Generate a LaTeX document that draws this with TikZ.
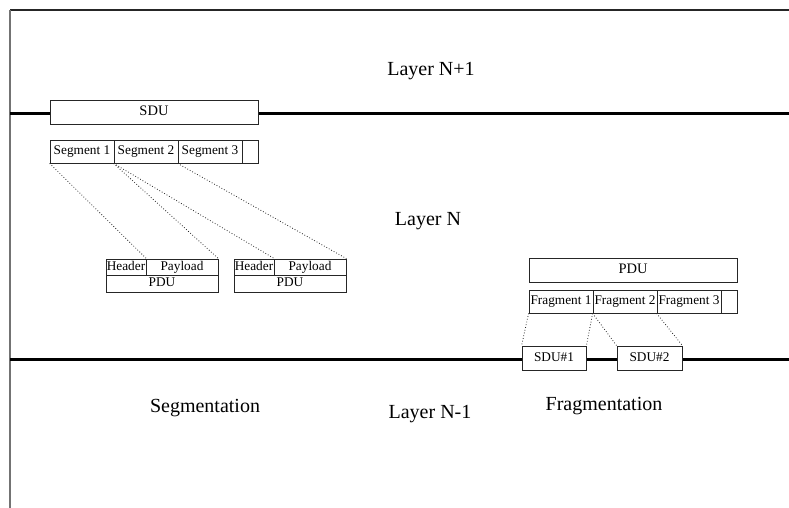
\documentclass[tikz,border=0pt]{standalone}
\usepackage{fontspec}
\setmainfont{Liberation Serif}
\begin{document}
\begin{tikzpicture}[x=1pt,y=-1pt,
  box/.style={draw=black!85, fill=white, line width=0.8pt, inner sep=0pt, anchor=center, text height=0.72em, text depth=0.06em, font=\fontsize{13.3}{15}\selectfont},
  bigbox/.style={box, font=\fontsize{14.5}{17}\selectfont},
  layerline/.style={line width=3pt, black},
  frameline/.style={line width=1.2pt},
  dotline/.style={dotted, line width=0.8pt, black!85},
  lbl/.style={font=\fontsize{20}{24}\selectfont, inner sep=0pt, anchor=center}]
\useasboundingbox (0,0) rectangle (789,508);
% frame
\draw[frameline, black!85] (10,10) -- (789,10);
\draw[frameline, black!55] (10,10) -- (10,508);
% layer boundaries
\draw[layerline] (10,114) -- (789,114);
\draw[layerline] (10,359) -- (789,359);
% labels
\node[lbl] (ln1) at (431,71) {Layer N+1};
\node[lbl] (ln) at (428,221) {Layer N};
\node[lbl] (lnm) at (430,414) {Layer N-1};
\node[lbl] (segm) at (205,408) {Segmentation};
\node[lbl] (fragm) at (604,406) {Fragmentation};
% segmentation side
\node[bigbox, minimum width=208pt, minimum height=24pt] (sdu) at (154,112) {SDU};
\node[box, minimum width=64pt, minimum height=23pt] (seg1) at (82,151.5) {Segment 1};
\node[box, minimum width=64pt, minimum height=23pt] (seg2) at (146,151.5) {Segment 2};
\node[box, minimum width=64pt, minimum height=23pt] (seg3) at (210,151.5) {Segment 3};
\node[box, minimum width=16pt, minimum height=23pt] (seg4) at (250,151.5) {};
\node[box, minimum width=40pt, minimum height=16pt] (hdr1) at (126,267) {Header};
\node[box, minimum width=72pt, minimum height=16pt] (pay1) at (182,267) {Payload};
\node[box, minimum width=112pt, minimum height=17pt] (pdu1) at (162,283.5) {PDU};
\node[box, minimum width=40pt, minimum height=16pt] (hdr2) at (254,267) {Header};
\node[box, minimum width=72pt, minimum height=16pt] (pay2) at (310,267) {Payload};
\node[box, minimum width=112pt, minimum height=17pt] (pdu2) at (290,283.5) {PDU};
\draw[dotline] (seg1.south west) -- (hdr1.north east);
\draw[dotline] (seg2.south west) -- (pay1.north east);
\draw[dotline] (seg2.south west) -- (hdr2.north east);
\draw[dotline] (seg3.south west) -- (pay2.north east);
% fragmentation side
\node[bigbox, minimum width=208pt, minimum height=24pt] (pdu) at (633,270) {PDU};
\node[box, minimum width=64pt, minimum height=23pt] (frag1) at (561,301.5) {Fragment 1};
\node[box, minimum width=64pt, minimum height=23pt] (frag2) at (625,301.5) {Fragment 2};
\node[box, minimum width=64pt, minimum height=23pt] (frag3) at (689,301.5) {Fragment 3};
\node[box, minimum width=16pt, minimum height=23pt] (frag4) at (729,301.5) {};
\node[box, minimum width=64pt, minimum height=24pt] (sdu1) at (554,358) {SDU\#1};
\node[box, minimum width=65pt, minimum height=24pt] (sdu2) at (649.5,358) {SDU\#2};
\draw[dotline] (frag1.south west) -- (sdu1.north west);
\draw[dotline] (frag2.south west) -- (sdu1.north east);
\draw[dotline] (frag2.south west) -- (sdu2.north west);
\draw[dotline] (frag3.south west) -- (sdu2.north east);
\end{tikzpicture}
\end{document}
